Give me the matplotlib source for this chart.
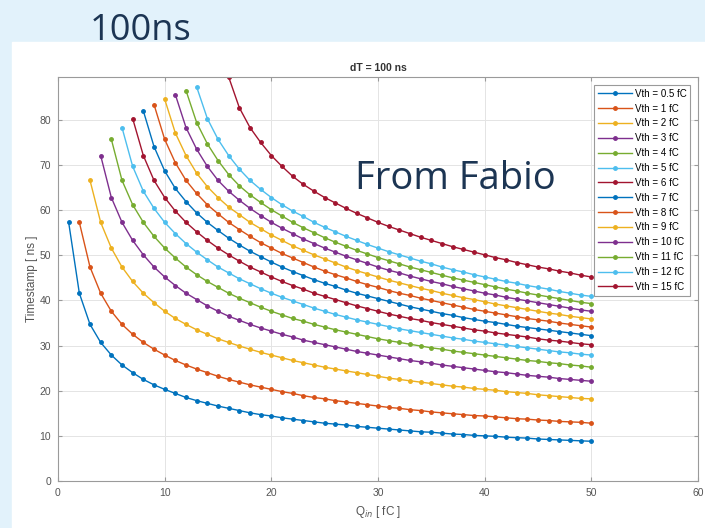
import matplotlib.pyplot as plt
import numpy as np
from matplotlib.patches import Rectangle

# threshold settings (fC) and first charge point (fC) of each scan
vth = [0.5, 1, 2, 3, 4, 5, 6, 7, 8, 9, 10, 11, 12, 15]
q_first = [1, 2, 3, 4, 5, 6, 7, 8, 9, 10, 11, 12, 13, 16]

# timestamp [ns] per 1 fC charge step, up to 50 fC
t_vth0p5 = [57.3, 41.6, 34.7, 30.7, 27.9, 25.7, 24.0, 22.5, 21.3, 20.3,
            19.4, 18.5, 17.8, 17.2, 16.6, 16.1, 15.6, 15.1, 14.7, 14.4,
            14.0, 13.7, 13.4, 13.1, 12.8, 12.6, 12.4, 12.1, 11.9, 11.7,
            11.5, 11.3, 11.1, 10.9, 10.8, 10.6, 10.4, 10.3, 10.1, 10.0,
            9.9, 9.7, 9.6, 9.5, 9.3, 9.2, 9.1, 9.0, 8.9, 8.8]
t_vth1 = [57.3, 47.4, 41.6, 37.6, 34.7, 32.5, 30.7, 29.2, 27.9,
          26.7, 25.7, 24.8, 24.0, 23.2, 22.5, 21.9, 21.3, 20.8, 20.3,
          19.8, 19.4, 18.9, 18.5, 18.2, 17.8, 17.5, 17.2, 16.9, 16.6,
          16.3, 16.1, 15.8, 15.6, 15.3, 15.1, 14.9, 14.7, 14.5, 14.4,
          14.2, 14.0, 13.8, 13.7, 13.5, 13.4, 13.2, 13.1, 13.0, 12.8]
t_vth2 = [66.6, 57.3, 51.6, 47.4, 44.2, 41.6, 39.5, 37.6,
          36.0, 34.7, 33.5, 32.5, 31.5, 30.7, 29.9, 29.2, 28.5, 27.9,
          27.3, 26.7, 26.2, 25.7, 25.2, 24.8, 24.4, 24.0, 23.6, 23.2,
          22.8, 22.5, 22.2, 21.9, 21.6, 21.3, 21.0, 20.8, 20.5, 20.3,
          20.1, 19.8, 19.6, 19.4, 19.1, 18.9, 18.7, 18.5, 18.3, 18.2]
t_vth3 = [72.1, 62.8, 57.3, 53.3, 50.1, 47.4, 45.2,
          43.3, 41.6, 40.2, 38.8, 37.6, 36.5, 35.6, 34.7, 33.9, 33.2,
          32.5, 31.9, 31.2, 30.7, 30.2, 29.7, 29.2, 28.7, 28.3, 27.9,
          27.5, 27.1, 26.7, 26.4, 26.1, 25.7, 25.4, 25.1, 24.8, 24.5,
          24.2, 24.0, 23.7, 23.4, 23.2, 23.0, 22.7, 22.5, 22.3, 22.1]
t_vth4 = [75.7, 66.6, 61.2, 57.3, 54.2, 51.6,
          49.4, 47.4, 45.7, 44.2, 42.9, 41.6, 40.5, 39.5, 38.5, 37.6,
          36.8, 36.0, 35.4, 34.7, 34.1, 33.5, 33.0, 32.5, 32.0, 31.5,
          31.1, 30.7, 30.3, 29.9, 29.5, 29.2, 28.8, 28.5, 28.2, 27.9,
          27.6, 27.3, 27.0, 26.7, 26.5, 26.2, 26.0, 25.7, 25.5, 25.2]
t_vth5 = [78.3, 69.7, 64.2, 60.4, 57.3,
          54.8, 52.6, 50.7, 49.0, 47.4, 46.1, 44.8, 43.7, 42.6, 41.6,
          40.7, 39.9, 39.1, 38.3, 37.6, 36.9, 36.3, 35.7, 35.2, 34.7,
          34.2, 33.7, 33.3, 32.9, 32.5, 32.1, 31.7, 31.4, 31.0, 30.7,
          30.4, 30.1, 29.8, 29.5, 29.2, 28.9, 28.6, 28.4, 28.1, 27.9]
t_vth6 = [80.3, 72.1, 66.6, 62.8,
          59.8, 57.3, 55.2, 53.3, 51.6, 50.1, 48.7, 47.4, 46.3, 45.2,
          44.2, 43.3, 42.5, 41.6, 40.9, 40.2, 39.5, 38.8, 38.2, 37.6,
          37.0, 36.5, 36.0, 35.6, 35.1, 34.7, 34.3, 33.9, 33.5, 33.2,
          32.8, 32.5, 32.2, 31.9, 31.5, 31.2, 31.0, 30.7, 30.4, 30.2]
t_vth7 = [82.0, 74.1, 68.7,
          64.8, 61.9, 59.4, 57.3, 55.5, 53.8, 52.3, 50.9, 49.7, 48.5,
          47.4, 46.4, 45.5, 44.6, 43.8, 43.1, 42.3, 41.6, 41.0, 40.4,
          39.8, 39.2, 38.6, 38.1, 37.6, 37.1, 36.7, 36.2, 35.8, 35.4,
          35.1, 34.7, 34.3, 34.0, 33.7, 33.4, 33.1, 32.8, 32.5, 32.2]
t_vth8 = [83.4, 75.7,
          70.5, 66.6, 63.7, 61.2, 59.2, 57.3, 55.7, 54.2, 52.8, 51.6,
          50.4, 49.4, 48.4, 47.4, 46.5, 45.7, 45.0, 44.2, 43.5, 42.9,
          42.2, 41.6, 41.1, 40.5, 40.0, 39.5, 39.0, 38.5, 38.0, 37.6,
          37.2, 36.8, 36.4, 36.0, 35.7, 35.4, 35.0, 34.7, 34.4, 34.1]
t_vth9 = [84.6,
          77.1, 72.1, 68.2, 65.2, 62.8, 60.7, 59.0, 57.3, 55.9, 54.5,
          53.3, 52.1, 51.1, 50.1, 49.2, 48.3, 47.4, 46.6, 45.9, 45.2,
          44.5, 43.9, 43.3, 42.7, 42.2, 41.6, 41.1, 40.6, 40.2, 39.7,
          39.2, 38.8, 38.4, 38.0, 37.6, 37.2, 36.9, 36.5, 36.2, 35.9]
t_vth10 = [85.6, 78.3, 73.5, 69.7, 66.6, 64.2, 62.2, 60.4, 58.8, 57.3,
           56.0, 54.8, 53.6, 52.6, 51.6, 50.7, 49.8, 49.0, 48.2, 47.4,
           46.7, 46.1, 45.4, 44.8, 44.2, 43.7, 43.1, 42.6, 42.1, 41.6,
           41.2, 40.7, 40.3, 39.9, 39.5, 39.1, 38.7, 38.3, 37.9, 37.6]
t_vth11 = [86.5, 79.4, 74.7, 71.0, 67.9, 65.4, 63.4, 61.7, 60.1,
           58.7, 57.3, 56.1, 55.0, 53.9, 52.9, 52.0, 51.1, 50.3, 49.5,
           48.8, 48.1, 47.4, 46.8, 46.2, 45.6, 45.0, 44.5, 44.0, 43.5,
           43.0, 42.5, 42.1, 41.6, 41.2, 40.8, 40.4, 40.0, 39.6, 39.3]
t_vth12 = [87.3, 80.3, 75.7, 72.1, 69.1, 66.6, 64.6, 62.8,
           61.2, 59.8, 58.6, 57.3, 56.2, 55.2, 54.2, 53.3, 52.4, 51.6,
           50.8, 50.1, 49.4, 48.7, 48.1, 47.4, 46.8, 46.3, 45.7, 45.2,
           44.7, 44.2, 43.8, 43.3, 42.9, 42.5, 42.0, 41.6, 41.2, 40.9]
t_vth15 = [89.5, 82.7, 78.3, 75.0, 72.1,
           69.7, 67.5, 65.7, 64.2, 62.8, 61.6, 60.4, 59.3, 58.3, 57.3,
           56.4, 55.6, 54.8, 54.0, 53.3, 52.6, 51.9, 51.3, 50.7, 50.1,
           49.5, 49.0, 48.4, 47.9, 47.4, 47.0, 46.5, 46.1, 45.6, 45.2]

timestamps = [t_vth0p5, t_vth1, t_vth2, t_vth3, t_vth4, t_vth5, t_vth6,
              t_vth7, t_vth8, t_vth9, t_vth10, t_vth11, t_vth12, t_vth15]

# matlab default color order
colors = ['#0072BD', '#D95319', '#EDB120', '#7E2F8E', '#77AC30',
          '#4DBEEE', '#A2142F']

W, H = 705, 528
fig = plt.figure(figsize=(W / 100, H / 100), dpi=100, facecolor='#e2f2fb')
fig.patches.append(Rectangle((12 / W, 0), 1, (H - 42) / H,
                             transform=fig.transFigure, color='white',
                             zorder=-10))

fig.text(90 / W, 1 - 40 / H, '100ns', fontsize=26, family='Open Sans',
         color='#1c3553', va='baseline')

ax = fig.add_axes([58 / W, (H - 481) / H, 640 / W, 404 / H])

for i, (v, q0, t) in enumerate(zip(vth, q_first, timestamps)):
    q = np.arange(q0, q0 + len(t))
    ax.plot(q, t, '.-', color=colors[i % 7], lw=1.0, ms=5,
            label='Vth = %g fC' % v)

ax.set_xlim(0, 60)
ax.set_ylim(0, max(max(t) for t in timestamps))
ax.set_xticks(range(0, 61, 10))
ax.set_yticks(range(0, 81, 10))
ax.grid(True, color='#e4e4e4', lw=0.7)
ax.set_axisbelow(True)
for s in ax.spines.values():
    s.set_color('#9a9a9a')
    s.set_linewidth(0.8)
ax.tick_params(direction='in', top=True, right=True, length=3,
               color='#9a9a9a', labelsize=7.5, labelcolor='#555555', pad=5)
for lab in ax.get_xticklabels() + ax.get_yticklabels():
    lab.set_family('Liberation Sans')

ax.set_title('dT = 100 ns', fontsize=7.5, fontweight='bold',
             family='Liberation Sans', color='#333333', pad=4)
ax.set_xlabel('Q$_{in}$ [ fC ]', fontsize=8.5, family='Liberation Sans',
              color='#555555', labelpad=4)
ax.set_ylabel('Timestamp [ ns ]', fontsize=8.5, family='Liberation Sans',
              color='#555555', labelpad=1)

leg = ax.legend(loc='upper right', handlelength=3.5,
                labelspacing=0.5, borderaxespad=0.8, handletextpad=0.3,
                borderpad=0.4, fancybox=False, framealpha=1,
                prop={'family': 'Liberation Sans', 'size': 7})
leg.get_frame().set_edgecolor('#9a9a9a')
leg.get_frame().set_linewidth(0.8)

fig.text(355 / W, 1 - 189 / H, 'From Fabio', fontsize=27.5,
         family='Open Sans', color='#1c3553', va='baseline')

fig.savefig('out.png', dpi=100, facecolor=fig.get_facecolor())
